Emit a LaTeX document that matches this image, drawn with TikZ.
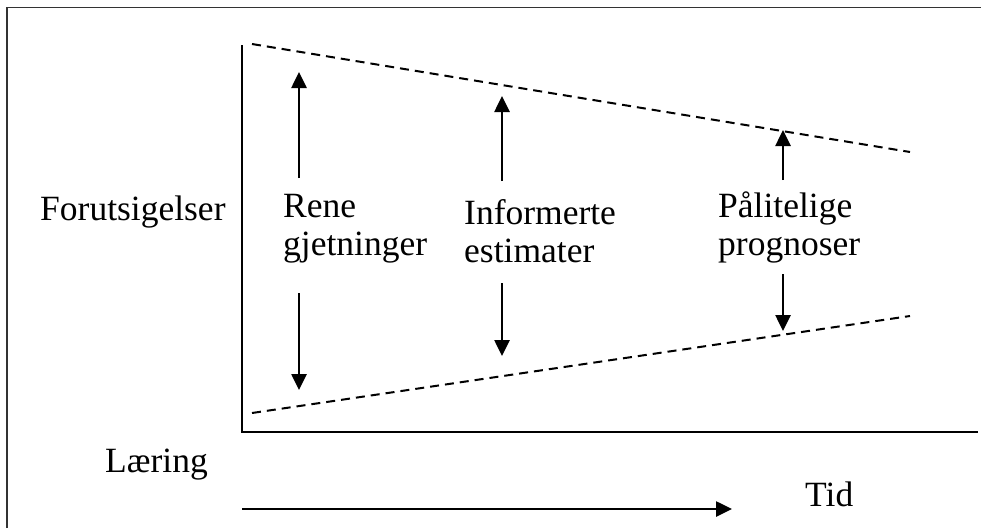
\documentclass[tikz,border=0pt]{standalone}
\usepackage{fontspec}
\setmainfont{Liberation Serif}
\usetikzlibrary{arrows.meta}
\begin{document}
\begin{tikzpicture}[x=1pt,y=-1pt,
  lbl/.style={inner sep=0pt,font=\fontsize{35.5}{38}\selectfont,align=left,anchor=west},
  axis/.style={line width=2.5pt,black},
  bound/.style={line width=2pt,dash pattern=on 9pt off 6pt},
  spread/.style={line width=2.6pt,-{Triangle[length=16pt,width=15pt]}},
  frame/.style={line width=1.8pt,black!80}]
\useasboundingbox (0,0) rectangle (981,528);
% outer frame (top and left edges)
\draw[frame] (7,528) -- (7,7.5) -- (981,7.5);
% axes
\coordinate (ytop) at (242,45);
\coordinate (orig) at (242,432);
\coordinate (xend) at (978,432);
\draw[axis] (ytop) -- (orig) -- (xend);
% funnel bounds
\coordinate (u1) at (252,44);
\coordinate (u2) at (910,152);
\coordinate (l1) at (252,413);
\coordinate (l2) at (910,316);
\draw[bound] (u1) -- (u2);
\draw[bound] (l1) -- (l2);
% labels
\node[lbl] (fs) at (40,212) {Forutsigelser};
\node[lbl] (rene) at (283,229) {Rene\\gjetninger};
\node[lbl] (inf) at (464,231) {Informerte\\estimater};
\node[lbl] (pal) at (718,227) {Pålitelige\\prognoser};
\node[lbl] (lar) at (105,465) {Læring};
\node[lbl] (tid) at (805,494) {Tid};
% spread arrows
\coordinate (a1t) at (299,72);
\coordinate (a1b) at (299,390);
\coordinate (a2t) at (502,96);
\coordinate (a2b) at (502,356);
\coordinate (a3t) at (783,130);
\coordinate (a3b) at (783,331);
\draw[spread] (299,178) -- (a1t);
\draw[spread] (299,293) -- (a1b);
\draw[spread] (502,181) -- (a2t);
\draw[spread] (502,283) -- (a2b);
\draw[spread] (783,180) -- (a3t);
\draw[spread] (783,274) -- (a3b);
% time arrow
\coordinate (ts) at (242,509);
\coordinate (te) at (732,509);
\draw[spread] (ts) -- (te);
\end{tikzpicture}
\end{document}
